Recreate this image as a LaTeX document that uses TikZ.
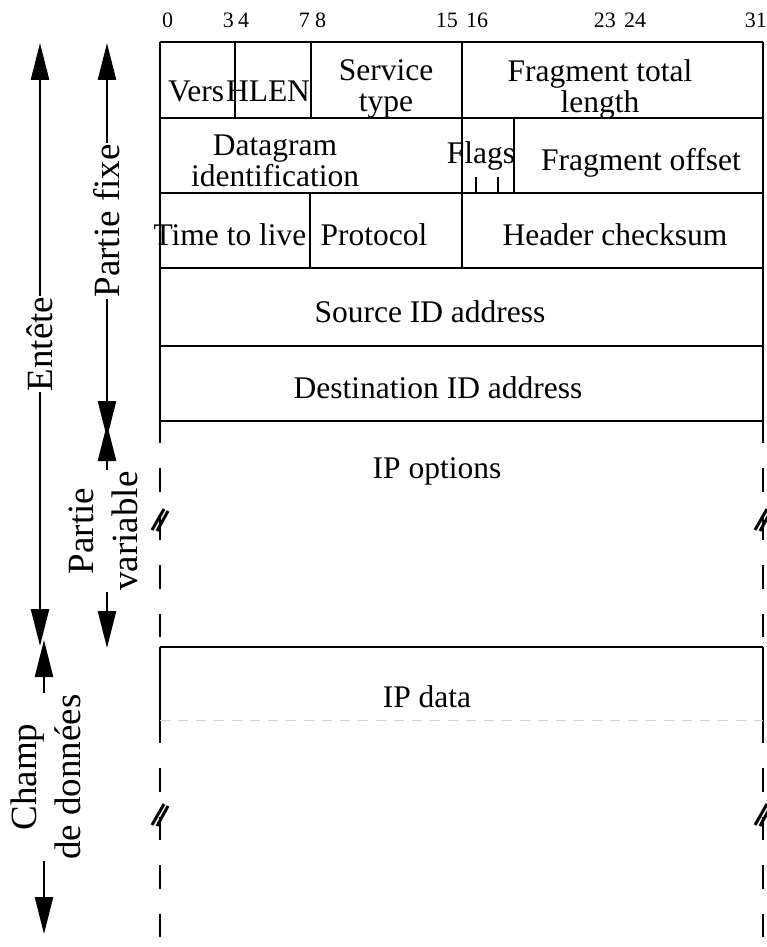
\documentclass[tikz,border=0pt]{standalone}
\usepackage{fontspec}
\setmainfont{Liberation Serif}
\usetikzlibrary{arrows.meta}

\tikzset{
  frame/.style={line width=2.5pt},
  divider/.style={line width=2.2pt},
  sideline/.style={line width=2.5pt, dash pattern=on 23.5pt off 25pt, dash phase=23.5pt},
  field/.style={inner sep=0pt, font=\fontsize{31.5}{31}\selectfont, align=center},
  bitnum/.style={inner sep=0pt, font=\fontsize{22}{22}\selectfont, anchor=base west},
  dimlabel/.style={rotate=90, inner sep=1pt, font=\fontsize{37}{44}\selectfont, align=center},
  dimarrow/.style={line width=2.5pt, -{Triangle[length=37pt,width=18pt]}},
  cutmark/.pic={
    \draw[line width=3pt] (-8,11) -- (4,-10);
    \draw[line width=3pt] (-3,12) -- (8,-8);
  }
}

\begin{document}
\begin{tikzpicture}[x=1pt, y=-1pt]
\useasboundingbox (0,0) rectangle (767,947);

% header grid
\draw[frame] (160,42) -- (763,42);
\draw[frame] (160,118) -- (763,118);
\draw[frame] (160,193) -- (763,193);
\draw[frame] (160,268) -- (763,268);
\draw[frame] (160,346) -- (763,346);
\draw[frame] (160,421) -- (763,421);
\draw[frame] (160,42) -- (160,443);
\draw[frame] (763,42) -- (763,443);
\draw[divider] (235,42) -- (235,118);
\draw[divider] (311,42) -- (311,118);
\draw[divider] (462,42) -- (462,268);
\draw[divider] (514,118) -- (514,193);
\draw[divider] (476,177) -- (476,193);
\draw[divider] (498,177) -- (498,193);
\draw[divider] (310,193) -- (310,268);

% options part
\draw[sideline] (160,443) -- (160,647);
\draw[sideline] (763,443) -- (763,647);
\pic at (160,519) {cutmark};
\pic at (763,519) {cutmark};

% data part
\draw[frame] (160,647) -- (763,647);
\draw[frame] (160,647) -- (160,743);
\draw[frame] (763,647) -- (763,743);
\draw[line width=1pt, gray!35, dash pattern=on 10pt off 8pt] (160,720) -- (763,720);
\draw[sideline] (160,743) -- (160,947);
\draw[sideline] (763,743) -- (763,947);
\pic at (160,814) {cutmark};
\pic at (763,814) {cutmark};

% bit positions
\node[bitnum] (b0) at (162,28) {0};
\node[bitnum, anchor=base east] (b3) at (234,28) {3};
\node[bitnum] (b4) at (238,28) {4};
\node[bitnum, anchor=base east] (b7) at (310,28) {7};
\node[bitnum] (b8) at (315,28) {8};
\node[bitnum, anchor=base east] (b15) at (458,28) {15};
\node[bitnum] (b16) at (466,28) {16};
\node[bitnum, anchor=base east] (b23) at (616,28) {23};
\node[bitnum] (b24) at (624,28) {24};
\node[bitnum, anchor=base east] (b31) at (767,28) {31};

% fields
\node[field, anchor=base] (vers) at (196,102) {Vers};
\node[field, anchor=base] (hlen) at (268,102) {HLEN};
\node[field] (service) at (386,89) {Service\\type};
\node[field] (ftlen) at (600,89) {Fragment total\\length};
\node[field] (dgid) at (275,161) {Datagram\\identification};
\node[field, anchor=base] (flags) at (481,163) {Flags};
\node[field, anchor=base] (foffset) at (641,170) {Fragment offset};
\node[field, anchor=base] (ttl) at (230,245) {Time to live};
\node[field, anchor=base] (proto) at (374,245) {Protocol};
\node[field, anchor=base] (hcsum) at (615,245) {Header checksum};
\node[field, anchor=base] (srcaddr) at (430,322) {Source ID address};
\node[field, anchor=base] (dstaddr) at (438,398) {Destination ID address};
\node[field, anchor=base] (ipopt) at (437,478) {IP options};
\node[field, anchor=base] (ipdata) at (427,707) {IP data};

% extents on the left
\node[dimlabel] (entete) at (40,344) {Entête};
\node[dimlabel] (fixe) at (107,221) {Partie fixe};
\node[dimlabel] (pvar) at (103,531) {Partie\\variable};
\node[dimlabel] (champ) at (46,777) {Champ\\de données};
\coordinate (enttop) at (40,43);
\coordinate (entbot) at (40,646);
\coordinate (fixtop) at (107,43);
\coordinate (fixbot) at (107,438);
\coordinate (pvtop) at (107,424);
\coordinate (pvbot) at (107,648);
\coordinate (chtop) at (44,640);
\coordinate (chbot) at (44,934);
\draw[dimarrow] (entete.east) -- (enttop);
\draw[dimarrow] (entete.west) -- (entbot);
\draw[dimarrow] (fixe.east) -- (fixtop);
\draw[dimarrow] (fixe.west) -- (fixbot);
\draw[dimarrow] (pvar.east -| pvtop) -- (pvtop);
\draw[dimarrow] (pvar.west -| pvbot) -- (pvbot);
\draw[dimarrow] (champ.east -| chtop) -- (chtop);
\draw[dimarrow] (champ.west -| chbot) -- (chbot);
\end{tikzpicture}
\end{document}
